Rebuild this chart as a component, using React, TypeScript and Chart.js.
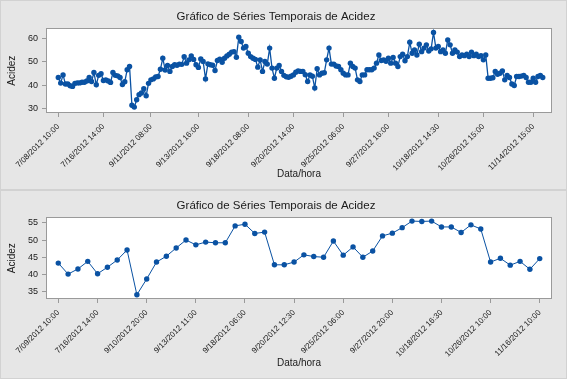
import React, { useEffect, useRef } from "react";
import { Chart, registerables } from "chart.js";

Chart.register(...registerables);

const TITLE = "Gráfico de Séries Temporais de Acidez";
const X_TITLE = "Data/hora";
const Y_TITLE = "Acidez";

// Top panel: full series
const topValues = [
  43.3, 40.9, 44.4, 40.5, 40.5, 39.8, 39.5, 40.8, 41.0, 41.0,
  41.3, 41.3, 41.8, 43.3, 41.6, 45.4, 40.2, 44.2, 44.9, 42.0,
  42.3, 41.8, 41.2, 45.4, 44.2, 44.0, 43.3, 40.3, 41.5, 46.6,
  48.0, 31.5, 30.7, 33.8, 36.0, 36.7, 38.5, 35.5, 40.8, 42.3,
  42.7, 43.5, 43.7, 46.8, 51.5, 46.5, 48.4, 45.9, 48.0, 48.7,
  48.5, 49.0, 48.9, 52.1, 49.4, 50.8, 52.5, 51.0, 48.7, 47.6,
  51.2, 50.1, 42.7, 49.1, 48.7, 48.5, 46.3, 50.5, 51.1, 49.8,
  51.5, 52.5, 53.2, 54.1, 54.3, 51.9, 60.4, 58.6, 55.8, 56.5,
  53.6, 52.2, 51.5, 51.0, 47.7, 50.8, 45.9, 50.1, 49.0, 55.8,
  47.3, 43.0, 47.3, 48.4, 45.9, 44.2, 43.6, 43.4, 43.8, 44.4,
  45.5, 46.1, 45.9, 45.9, 44.5, 41.6, 44.4, 43.8, 38.8, 47.0,
  44.4, 45.1, 45.3, 50.8, 55.8, 49.0, 49.0, 48.2, 48.0, 46.6,
  45.1, 44.4, 44.4, 49.4, 48.0, 47.3, 42.3, 41.6, 44.4, 44.4,
  46.6, 46.6, 46.6, 47.3, 49.4, 52.9, 50.5, 50.8, 50.2, 51.5,
  49.4, 51.8, 49.4, 48.0, 52.2, 53.2, 50.4, 52.2, 58.3, 53.6,
  55.0, 52.9, 57.5, 54.3, 55.8, 57.2, 54.6, 55.5, 62.5, 55.8,
  56.5, 54.3, 55.0, 53.6, 59.3, 57.2, 53.6, 55.0, 54.1, 52.2,
  52.9, 52.6, 53.2, 52.2, 54.1, 52.6, 53.2, 52.2, 52.6, 50.8,
  52.9, 43.0, 43.0, 43.2, 45.9, 44.7, 45.1, 46.1, 42.3, 44.2,
  43.3, 40.5, 39.9, 43.7, 43.7, 43.9, 44.2, 43.3, 41.3, 41.3,
  43.0, 41.3, 43.7, 44.2, 43.3,
];
const topTickIdx = [0, 19, 39, 59, 80, 99, 120, 139, 160, 179, 200];
const topTickLabels = [
  "7/08/2012 10:00", "7/16/2012 14:00", "9/11/2012 08:00", "9/13/2012 16:00",
  "9/18/2012 08:00", "9/20/2012 14:00", "9/25/2012 06:00", "9/27/2012 16:00",
  "10/18/2012 14:30", "10/26/2012 15:00", "11/14/2012 15:00",
];
const topYTicks = [30, 40, 50, 60];

// Bottom panel: reduced series
const bottomValues = [
  43.3, 40.1, 41.6, 43.8, 40.2, 42.1, 44.2, 47.1, 34.1, 38.7,
  43.6, 45.3, 47.7, 50.0, 48.6, 49.4, 49.2, 49.2, 54.1, 54.6,
  51.9, 52.3, 42.8, 42.8, 43.6, 45.7, 45.2, 45.0, 49.7, 45.6,
  48.0, 45.0, 46.8, 51.2, 52.0, 53.6, 55.5, 55.4, 55.5, 53.8,
  53.8, 52.2, 54.4, 53.2, 43.6, 44.7, 42.7, 43.8, 41.5, 44.6,
];
const bottomTickIdx = [0, 4, 9, 14, 19, 24, 29, 34, 39, 44, 49];
const bottomTickLabels = [
  "7/09/2012 10:00", "7/16/2012 14:00", "9/10/2012 20:00", "9/13/2012 11:00",
  "9/18/2012 06:00", "9/20/2012 12:30", "9/25/2012 06:00", "9/27/2012 20:00",
  "10/18/2012 16:30", "10/26/2012 10:00", "11/16/2012 10:00",
];
const bottomYTicks = [35, 40, 45, 50, 55];

const FONT = "'Liberation Sans', Arial, sans-serif";
const BLUE = "#0a52a3";
const BG = "#e6e6e6";
const PANEL_BORDER = "#d2d2d2";
const AXIS_GRAY = "#9a9a9a";
const TEXT = "#1a1a1a";

const decor = {
  id: "decor",
  beforeDraw(chart: any) {
    const { ctx, width, height, chartArea: a } = chart;
    ctx.save();
    ctx.fillStyle = BG;
    ctx.fillRect(0, 0, width, height);
    ctx.strokeStyle = PANEL_BORDER;
    ctx.lineWidth = 1;
    ctx.strokeRect(0.5, 0.5, width - 1, height - 1);
    ctx.fillStyle = "#ffffff";
    ctx.fillRect(a.left, a.top, a.right - a.left, a.bottom - a.top);
    ctx.restore();
  },
  afterDraw(chart: any) {
    const { ctx, chartArea: a } = chart;
    ctx.save();
    ctx.strokeStyle = AXIS_GRAY;
    ctx.lineWidth = 1;
    const l = Math.round(a.left) + 0.5;
    const t = Math.round(a.top) + 0.5;
    const r = Math.round(a.right) - 0.5;
    const b = Math.round(a.bottom) - 0.5;
    ctx.strokeRect(l, t, r - l, b - t);
    ctx.restore();
  },
};

type PanelParams = {
  values: number[];
  tickIdx: number[];
  tickLabels: string[];
  yTicks: number[];
  yMin: number;
  yMax: number;
  xMin: number;
  xMax: number;
  titlePadTop: number;
  titlePadBottom: number;
  xAxisHeight: number;
  xTitlePadBottom: number;
  lineWidth: number;
  pointRadius: number;
};

function buildConfig(p: PanelParams): any {
  return {
    type: "line",
    data: {
      datasets: [
        {
          data: p.values.map((v, i) => ({ x: i, y: v })),
          borderColor: BLUE,
          backgroundColor: BLUE,
          borderWidth: p.lineWidth,
          pointRadius: p.pointRadius,
          pointBorderWidth: 0,
          pointBackgroundColor: BLUE,
          pointStyle: "circle",
          tension: 0,
        },
      ],
    },
    options: {
      responsive: false,
      animation: false,
      devicePixelRatio: 1,
      layout: { padding: { left: 0, right: 15, top: 0, bottom: 0 } },
      plugins: {
        legend: { display: false },
        tooltip: { enabled: false },
        title: {
          display: true,
          text: TITLE,
          color: TEXT,
          font: { family: FONT, size: 11.5, weight: "normal" },
          padding: { top: p.titlePadTop, bottom: p.titlePadBottom },
        },
      },
      scales: {
        x: {
          type: "linear",
          min: p.xMin,
          max: p.xMax,
          afterFit: (s: any) => {
            s.height = p.xAxisHeight;
          },
          afterBuildTicks: (s: any) => {
            s.ticks = p.tickIdx.map((v) => ({ value: v }));
          },
          grid: { drawOnChartArea: false, drawTicks: true, tickLength: 4, color: AXIS_GRAY },
          border: { display: false },
          ticks: {
            autoSkip: false,
            maxRotation: 45,
            minRotation: 45,
            padding: 5,
            color: TEXT,
            font: { family: FONT, size: 8 },
            callback: (v: any) => {
              const k = p.tickIdx.indexOf(Number(v));
              return k >= 0 ? p.tickLabels[k] : "";
            },
          },
          title: {
            display: true,
            text: X_TITLE,
            color: TEXT,
            font: { family: FONT, size: 10 },
            padding: { top: 0, bottom: p.xTitlePadBottom },
          },
        },
        y: {
          min: p.yMin,
          max: p.yMax,
          afterFit: (s: any) => {
            s.width = 46;
          },
          afterBuildTicks: (s: any) => {
            s.ticks = p.yTicks.map((v) => ({ value: v }));
          },
          grid: { drawOnChartArea: false, drawTicks: true, tickLength: 4, color: AXIS_GRAY },
          border: { display: false },
          ticks: {
            padding: 4,
            color: TEXT,
            font: { family: FONT, size: 9 },
          },
          title: {
            display: true,
            text: Y_TITLE,
            color: TEXT,
            font: { family: FONT, size: 10 },
            padding: { top: 6.7, bottom: 0 },
          },
        },
      },
    },
    plugins: [decor],
  };
}

function Panel({ params, width, height }: { params: PanelParams; width: number; height: number }) {
  const ref = useRef<HTMLCanvasElement | null>(null);
  useEffect(() => {
    if (!ref.current) return;
    const chart = new Chart(ref.current, buildConfig(params));
    return () => chart.destroy();
  }, []);
  return <canvas ref={ref} width={width} height={height} style={{ display: "block", width, height }} />;
}

const topParams: PanelParams = {
  values: topValues,
  tickIdx: topTickIdx,
  tickLabels: topTickLabels,
  yTicks: topYTicks,
  yMin: 28.18,
  yMax: 64.24,
  xMin: -5.18,
  xMax: 207.9,
  titlePadTop: 10.3,
  titlePadBottom: 4.2,
  xAxisHeight: 77,
  xTitlePadBottom: 9.5,
  lineWidth: 1.3,
  pointRadius: 2.7,
};

const bottomParams: PanelParams = {
  values: bottomValues,
  tickIdx: bottomTickIdx,
  tickLabels: bottomTickLabels,
  yTicks: bottomYTicks,
  yMin: 32.87,
  yMax: 56.6,
  xMin: -1.25,
  xMax: 50.25,
  titlePadTop: 8.6,
  titlePadBottom: 4.9,
  xAxisHeight: 80,
  xTitlePadBottom: 10,
  lineWidth: 1,
  pointRadius: 2.7,
};

export default function App() {
  return (
    <div style={{ position: "absolute", left: 0, top: 0, width: 567, height: 379, background: BG }}>
      <Panel params={topParams} width={567} height={190} />
      <Panel params={bottomParams} width={567} height={189} />
    </div>
  );
}
